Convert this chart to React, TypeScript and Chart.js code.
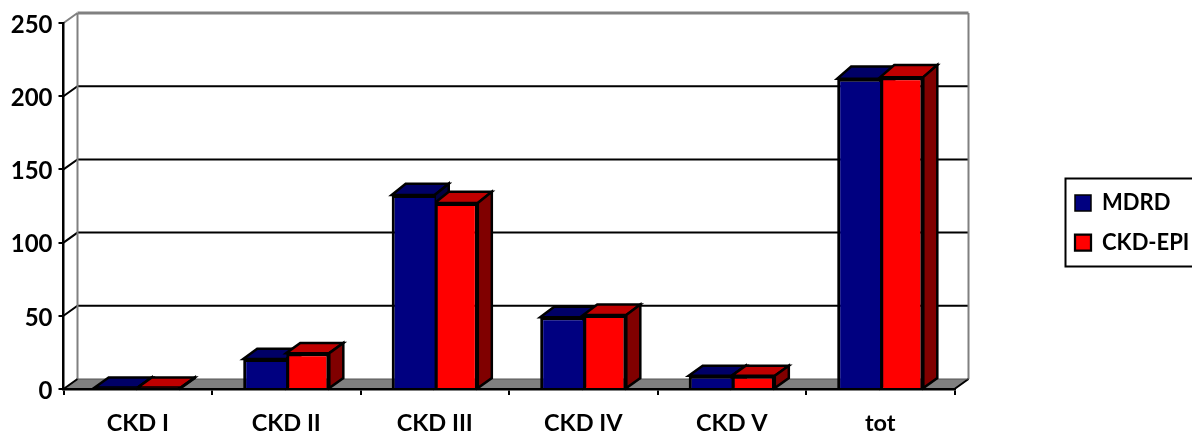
import React, { useEffect, useRef } from "react";
import { Chart, registerables } from "chart.js";

Chart.register(...registerables);

const categories = ["CKD I", "CKD II", "CKD III", "CKD IV", "CKD V", "tot"];
const mdrd = [1, 20.5, 132.5, 49, 9, 212];
const ckdEpi = [1, 24.5, 127, 50.5, 9, 213];
const seriesNames = ["MDRD", "CKD-EPI"];
const yTicksMax = 250;
const yStep = 50;

const FONT = "Lato, 'Open Sans', sans-serif";
const DX = 14; // depth of the floor and walls
const DY = 10;
const TOPS = ["#000066", "#BF0000"];
const SIDES = ["#000040", "#800000"];

const frame3d = {
  id: "frame3d",
  beforeLayout(chart: any) {
    const l = chart.legend;
    if (l && !l.__wrapped) {
      const f = l.fit;
      l.fit = function () {
        f.call(this);
        this.width = 237.5;
      };
      l.__wrapped = true;
    }
  },
  afterLayout(chart: any) {
    const l = chart.legend;
    if (!l) return;
    const w = l.width;
    const h = l.height;
    l.left = 1075 - l.options.labels.padding;
    l.right = l.left + w;
    l.top = 192 - l.options.labels.padding;
    l.bottom = l.top + h;
  },
  beforeDraw(chart: any) {
    const { ctx, chartArea: a, scales } = chart;
    const y = scales.y;
    ctx.save();
    ctx.fillStyle = "#fff";
    ctx.fillRect(0, 0, chart.width, chart.height);
    // floor
    ctx.fillStyle = "#808080";
    ctx.beginPath();
    ctx.moveTo(a.left, a.bottom);
    ctx.lineTo(a.left + DX, a.bottom - DY);
    ctx.lineTo(a.right + DX, a.bottom - DY);
    ctx.lineTo(a.right, a.bottom);
    ctx.closePath();
    ctx.fill();
    // gridlines on the back wall and side wall
    for (let v = yStep; v < yTicksMax; v += yStep) {
      const py = y.getPixelForValue(v);
      ctx.strokeStyle = "#000";
      ctx.lineWidth = 2;
      ctx.beginPath();
      ctx.moveTo(a.left, py);
      ctx.lineTo(a.left + DX, py - DY);
      ctx.lineTo(a.right + DX, py - DY);
      ctx.stroke();
    }
    // walls
    ctx.strokeStyle = "#808080";
    ctx.lineWidth = 2;
    ctx.beginPath();
    ctx.moveTo(a.left + DX, a.bottom - DY);
    ctx.lineTo(a.left + DX, a.top - DY);
    ctx.moveTo(a.right + DX, a.bottom - DY);
    ctx.lineTo(a.right + DX, a.top - DY);
    ctx.moveTo(a.left, a.top);
    ctx.lineTo(a.left + DX, a.top - DY);
    ctx.stroke();
    ctx.lineWidth = 3;
    ctx.beginPath();
    ctx.moveTo(a.left + DX, a.top - DY);
    ctx.lineTo(a.right + DX, a.top - DY);
    ctx.stroke();
    // floor edges
    ctx.strokeStyle = "#000";
    ctx.lineWidth = 2;
    ctx.beginPath();
    ctx.moveTo(a.left, a.bottom);
    ctx.lineTo(a.left + DX, a.bottom - DY);
    ctx.moveTo(a.right, a.bottom);
    ctx.lineTo(a.right + DX, a.bottom - DY);
    ctx.stroke();
    ctx.strokeStyle = "#555";
    ctx.lineWidth = 1;
    ctx.beginPath();
    ctx.moveTo(a.left + DX, a.bottom - DY);
    ctx.lineTo(a.right + DX, a.bottom - DY);
    ctx.stroke();
    // legend frame
    ctx.strokeStyle = "#000";
    ctx.lineWidth = 2;
    ctx.strokeRect(1065.5, 178.5, 140, 88);
    ctx.restore();
  },
  beforeDatasetsDraw(chart: any) {
    const { ctx, chartArea: a } = chart;
    ctx.save();
    ctx.strokeStyle = "#000";
    ctx.lineWidth = 2.5;
    ctx.lineJoin = "miter";
    chart.data.datasets.forEach((_: any, di: number) => {
      chart.getDatasetMeta(di).data.forEach((bar: any) => {
        const half = bar.width / 2;
        const l = bar.x - half;
        const r = bar.x + half;
        const t = bar.y;
        const b = bar.base;
        const dyTop = DY + (2.5 * (a.bottom - t)) / (a.bottom - a.top);
        ctx.fillStyle = TOPS[di];
        ctx.beginPath();
        ctx.moveTo(l, t);
        ctx.lineTo(l + DX, t - dyTop);
        ctx.lineTo(r + DX, t - dyTop);
        ctx.lineTo(r, t);
        ctx.closePath();
        ctx.fill();
        ctx.stroke();
        ctx.fillStyle = SIDES[di];
        ctx.beginPath();
        ctx.moveTo(r, t);
        ctx.lineTo(r + DX, t - dyTop);
        ctx.lineTo(r + DX, b - DY);
        ctx.lineTo(r, b);
        ctx.closePath();
        ctx.fill();
        ctx.stroke();
      });
    });
    ctx.restore();
  },
};

export default function App() {
  const ref = useRef<HTMLCanvasElement>(null);
  useEffect(() => {
    const chart = new Chart(ref.current as HTMLCanvasElement, {
      type: "bar",
      data: {
        labels: categories,
        datasets: [
          {
            label: seriesNames[0],
            data: mdrd,
            backgroundColor: "#000080",
            borderColor: "#000",
            borderWidth: { left: 3, top: 3, bottom: 0, right: 0 },
            clip: false,
          },
          {
            label: seriesNames[1],
            data: ckdEpi,
            backgroundColor: "#FF0000",
            borderColor: "#000",
            borderWidth: { left: 3, top: 3, bottom: 0, right: 3 },
            clip: false,
          },
        ] as any,
      },
      plugins: [frame3d],
      options: {
        responsive: false,
        animation: false,
        categoryPercentage: 0.58,
        barPercentage: 1,
        layout: { padding: { top: 23, right: 0, left: 0, bottom: 0 } },
        plugins: {
          title: { display: false },
          tooltip: { enabled: false },
          legend: {
            display: true,
            position: "right",
            align: "start",
            labels: {
              boxWidth: 16,
              boxHeight: 16,
              padding: 17.6,
              color: "#000",
              font: { family: FONT, size: 22, weight: "bold" },
            },
            onClick: () => {},
          },
        },
        scales: {
          x: {
            afterFit: (s: any) => {
              s.height = 43;
            },
            grid: {
              drawOnChartArea: false,
              drawTicks: true,
              tickLength: 6,
              color: "#000",
              lineWidth: 2,
            },
            border: { display: true, color: "#000", width: 2.5 },
            ticks: {
              color: "#000",
              padding: 14,
              maxRotation: 0,
              font: { family: FONT, size: 23.5, weight: "bold" },
            },
          },
          y: {
            min: 0,
            max: yTicksMax,
            afterFit: (s: any) => {
              s.width = 63.5;
            },
            grid: {
              drawOnChartArea: false,
              drawTicks: true,
              tickLength: 5,
              color: "#000",
              lineWidth: 2,
            },
            border: { display: true, color: "#000", width: 2.5 },
            ticks: {
              stepSize: yStep,
              color: "#000",
              padding: 6,
              labelOffset: 2,
              font: { family: FONT, size: 24, weight: "bold" },
            },
          },
        },
      } as any,
    });
    return () => chart.destroy();
  }, []);
  return (
    <div style={{ position: "fixed", left: 0, top: 0, width: 1192, height: 432 }}>
      <canvas ref={ref} width={1192} height={432} style={{ display: "block" }} />
    </div>
  );
}
